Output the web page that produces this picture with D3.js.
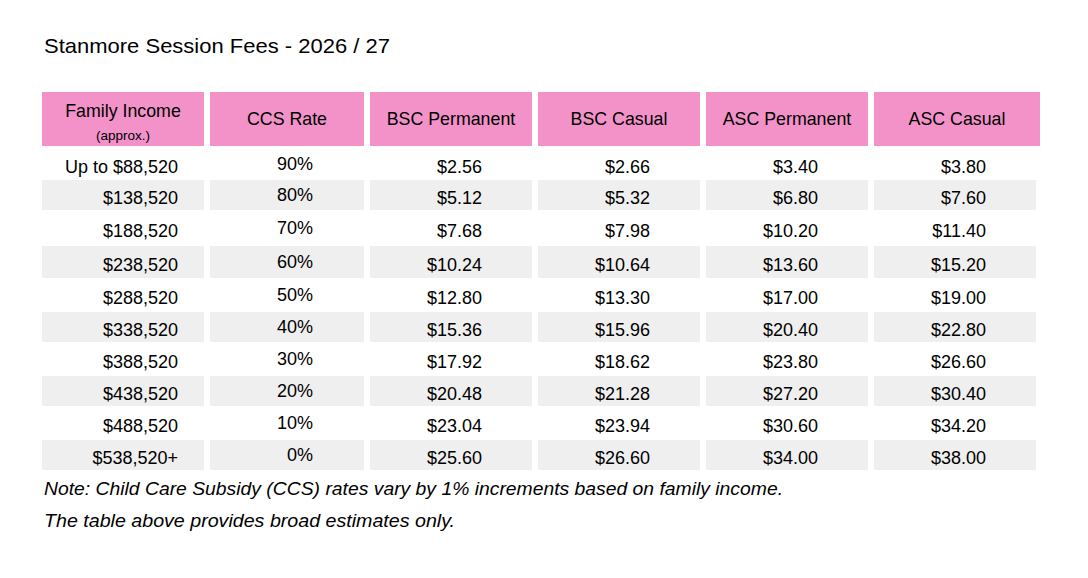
<!DOCTYPE html>
<html>
<head>
<meta charset="utf-8">
<script src="https://cdn.jsdelivr.net/npm/d3@7"></script>
<style>
  html, body { margin: 0; padding: 0; background: #ffffff; }
  svg { display: block; }
  text { font-family: "Liberation Sans", Arial, Helvetica, sans-serif; fill: #000000; }
</style>
</head>
<body>
<svg id="chart" width="1088" height="578"></svg>
<script>
// ---- data ----
const title = "Stanmore Session Fees - 2026 / 27";
const columns = ["Family Income", "CCS Rate", "BSC Permanent", "BSC Casual", "ASC Permanent", "ASC Casual"];
const incomeSubLabel = "(approx.)";
const incomes = ["Up to $88,520", "$138,520", "$188,520", "$238,520", "$288,520", "$338,520", "$388,520", "$438,520", "$488,520", "$538,520+"];
const ccsRates = [90, 80, 70, 60, 50, 40, 30, 20, 10, 0];
const bscPermanent = [2.56, 5.12, 7.68, 10.24, 12.80, 15.36, 17.92, 20.48, 23.04, 25.60];
const bscCasual = [2.66, 5.32, 7.98, 10.64, 13.30, 15.96, 18.62, 21.28, 23.94, 26.60];
const ascPermanent = [3.40, 6.80, 10.20, 13.60, 17.00, 20.40, 23.80, 27.20, 30.60, 34.00];
const ascCasual = [3.80, 7.60, 11.40, 15.20, 19.00, 22.80, 26.60, 30.40, 34.20, 38.00];
const notes = [
  "Note: Child Care Subsidy (CCS) rates vary by 1% increments based on family income.",
  "The table above provides broad estimates only."
];

// ---- layout (not data) ----
const colEdges = [[42, 204], [210, 364], [370, 532], [538, 700], [706, 868], [874, 1036]];
const headerTop = 92, headerBottom = 146, headerLastRight = 1040;
const rowEdges = [148, 180, 210, 246, 278, 312, 342, 376, 406, 440, 470];
const rightPad = [26, 51, 50, 50, 50, 50];
const pink = "#F292C9", grey = "#EFEFEF";

const svg = d3.select("#chart");
const money = d3.format("$.2f");
const pct = d => d + "%";

const colX = d3.scaleOrdinal().domain(d3.range(columns.length)).range(colEdges.map(e => e[0]));
const colW = d3.scaleOrdinal().domain(d3.range(columns.length)).range(colEdges.map(e => e[1] - e[0]));
const rowTop = d3.scaleOrdinal().domain(d3.range(incomes.length)).range(rowEdges.slice(0, -1));
const rowH = d3.scaleOrdinal().domain(d3.range(incomes.length)).range(rowEdges.slice(1).map((v, i) => v - rowEdges[i]));

// title
svg.append("text")
  .attr("x", 44).attr("y", 53)
  .attr("font-size", 21)
  .attr("textLength", 346).attr("lengthAdjust", "spacingAndGlyphs")
  .text(title);

// header
const head = svg.append("g");
const headW = i => i === columns.length - 1 ? headerLastRight - colX(i) : colW(i);
head.selectAll("rect").data(columns).join("rect")
  .attr("x", (d, i) => colX(i))
  .attr("y", headerTop)
  .attr("width", (d, i) => headW(i))
  .attr("height", headerBottom - headerTop)
  .attr("fill", pink);
head.selectAll("text.h").data(columns).join("text")
  .attr("class", "h")
  .attr("x", (d, i) => colX(i) + headW(i) / 2)
  .attr("y", (d, i) => i === 0 ? 117 : 125)
  .attr("text-anchor", "middle")
  .attr("font-size", 17.8)
  .text(d => d);
head.append("text")
  .attr("x", colX(0) + colW(0) / 2).attr("y", 140)
  .attr("text-anchor", "middle")
  .attr("font-size", 13.5)
  .text(incomeSubLabel);

// rows
const rows = incomes.map((inc, i) => [
  inc, pct(ccsRates[i]), money(bscPermanent[i]), money(bscCasual[i]), money(ascPermanent[i]), money(ascCasual[i])
]);

const body = svg.append("g");
const rowG = body.selectAll("g.row").data(rows).join("g").attr("class", "row");

rowG.each(function(r, ri) {
  const g = d3.select(this);
  if (ri % 2 === 1) {
    g.selectAll("rect").data(r).join("rect")
      .attr("x", (d, ci) => colX(ci))
      .attr("y", rowTop(ri))
      .attr("width", (d, ci) => colW(ci))
      .attr("height", rowH(ri))
      .attr("fill", grey);
  }
  const mid = rowTop(ri) + rowH(ri) / 2;
  g.selectAll("text").data(r).join("text")
    .attr("x", (d, ci) => colX(ci) + colW(ci) - rightPad[ci])
    .attr("y", (d, ci) => mid + 8.5 - (ci === 1 ? 3 : 0))
    .attr("text-anchor", "end")
    .attr("font-size", 18)
    .text(d => d);
});

// notes
svg.selectAll("text.note").data(notes).join("text")
  .attr("class", "note")
  .attr("x", 44)
  .attr("y", (d, i) => 495 + i * 31.5)
  .attr("font-size", 17.5)
  .attr("font-style", "italic")
  .attr("textLength", (d, i) => i === 0 ? 739 : 411)
  .attr("lengthAdjust", "spacingAndGlyphs")
  .text(d => d);
</script>
</body>
</html>
